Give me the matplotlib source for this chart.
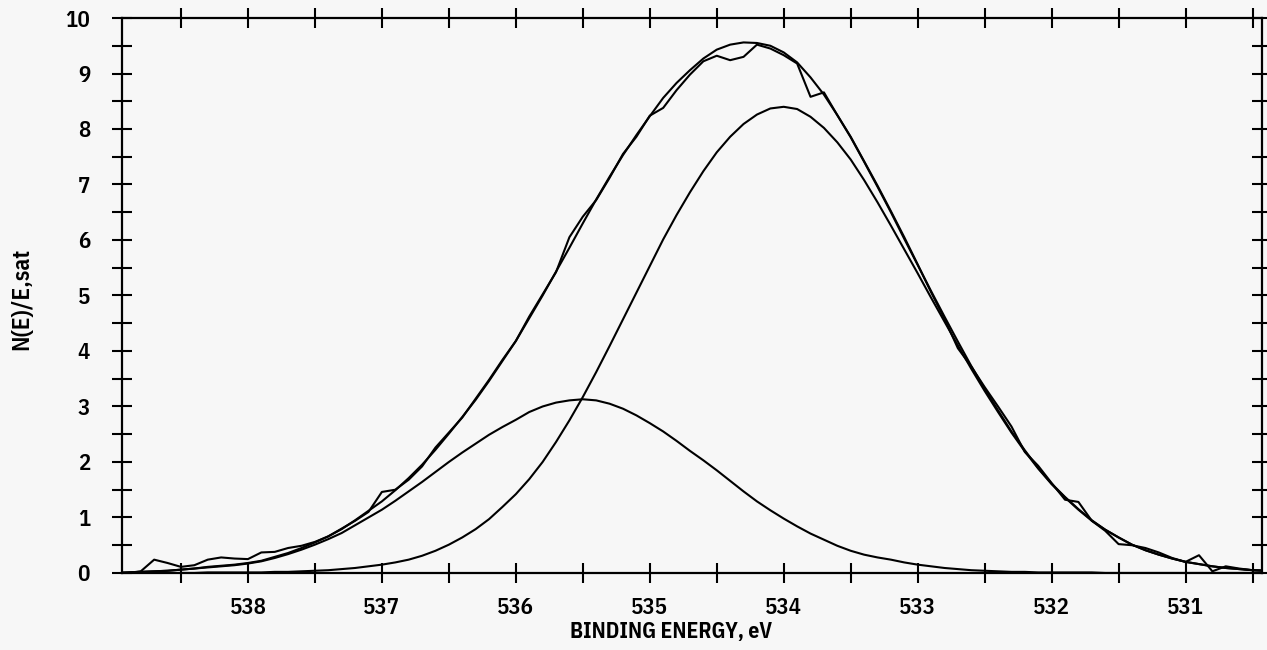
import matplotlib
matplotlib.use("Agg")
import matplotlib.pyplot as plt
from matplotlib.ticker import MultipleLocator, FuncFormatter

# Binding energy grid (eV), as sampled on the plot
energy = [539.0,
          538.9, 538.8, 538.7, 538.6, 538.5, 538.4, 538.3, 538.2, 538.1, 538.0,
          537.9, 537.8, 537.7, 537.6, 537.5, 537.4, 537.3, 537.2, 537.1, 537.0,
          536.9, 536.8, 536.7, 536.6, 536.5, 536.4, 536.3, 536.2, 536.1, 536.0,
          535.9, 535.8, 535.7, 535.6, 535.5, 535.4, 535.3, 535.2, 535.1, 535.0,
          534.9, 534.8, 534.7, 534.6, 534.5, 534.4, 534.3, 534.2, 534.1, 534.0,
          533.9, 533.8, 533.7, 533.6, 533.5, 533.4, 533.3, 533.2, 533.1, 533.0,
          532.9, 532.8, 532.7, 532.6, 532.5, 532.4, 532.3, 532.2, 532.1, 532.0,
          531.9, 531.8, 531.7, 531.6, 531.5, 531.4, 531.3, 531.2, 531.1, 531.0,
          530.9, 530.8, 530.7, 530.6, 530.5, 530.4]

# Measured spectrum N(E)/E
measured = [0.00,
            0.00, 0.03, 0.24, 0.18, 0.11, 0.14, 0.24, 0.28, 0.26, 0.25,
            0.37, 0.38, 0.45, 0.49, 0.56, 0.66, 0.80, 0.94, 1.10, 1.46,
            1.50, 1.68, 1.92, 2.26, 2.53, 2.80, 3.14, 3.48, 3.84, 4.18,
            4.62, 5.02, 5.42, 6.05, 6.42, 6.72, 7.12, 7.55, 7.86, 8.24,
            8.38, 8.70, 8.98, 9.22, 9.32, 9.24, 9.30, 9.52, 9.45, 9.33,
            9.18, 8.58, 8.66, 8.25, 7.86, 7.42, 6.98, 6.52, 6.05, 5.56,
            5.06, 4.58, 4.05, 3.72, 3.35, 3.00, 2.64, 2.18, 1.93, 1.62,
            1.32, 1.28, 0.94, 0.76, 0.52, 0.50, 0.45, 0.37, 0.27, 0.20,
            0.32, 0.03, 0.12, 0.08, 0.05, 0.04]

# Fitted component at higher binding energy (~535.5 eV)
peak_high = [0.00,
             0.01, 0.02, 0.03, 0.04, 0.06, 0.08, 0.10, 0.12, 0.14, 0.17,
             0.21, 0.27, 0.34, 0.42, 0.51, 0.61, 0.72, 0.86, 1.00, 1.14,
             1.30, 1.47, 1.64, 1.82, 2.00, 2.17, 2.33, 2.49, 2.63, 2.76,
             2.90, 3.00, 3.07, 3.11, 3.13, 3.11, 3.05, 2.96, 2.84, 2.70,
             2.55, 2.38, 2.20, 2.03, 1.85, 1.66, 1.47, 1.29, 1.13, 0.98,
             0.84, 0.71, 0.60, 0.49, 0.40, 0.33, 0.28, 0.24, 0.19, 0.15,
             0.12, 0.09, 0.07, 0.05, 0.04, 0.03, 0.02, 0.02, 0.01, 0.01,
             0.01, 0.01, 0.01, 0.00, 0.00, 0.00, 0.00, 0.00, 0.00, 0.00,
             0.00, 0.00, 0.00, 0.00, 0.00, 0.00]

# Fitted component at lower binding energy (~534.0 eV)
peak_low = [0.00,
            0.00, 0.00, 0.00, 0.00, 0.00, 0.00, 0.01, 0.01, 0.01, 0.01,
            0.01, 0.02, 0.02, 0.03, 0.04, 0.05, 0.07, 0.09, 0.12, 0.15,
            0.19, 0.24, 0.31, 0.40, 0.51, 0.64, 0.79, 0.97, 1.19, 1.42,
            1.69, 2.00, 2.36, 2.75, 3.17, 3.62, 4.09, 4.57, 5.05, 5.53,
            6.01, 6.45, 6.86, 7.24, 7.58, 7.86, 8.09, 8.26, 8.37, 8.40,
            8.36, 8.22, 8.02, 7.76, 7.45, 7.08, 6.68, 6.26, 5.83, 5.40,
            4.96, 4.53, 4.10, 3.68, 3.28, 2.90, 2.53, 2.19, 1.88, 1.60,
            1.36, 1.14, 0.94, 0.78, 0.64, 0.51, 0.41, 0.33, 0.26, 0.20,
            0.16, 0.12, 0.09, 0.07, 0.05, 0.04]

x_major = [538, 537, 536, 535, 534, 533, 532, 531]
y_major = [0, 1, 2, 3, 4, 5, 6, 7, 8, 9, 10]

envelope = [a + b for a, b in zip(peak_high, peak_low)]

BG = '#f7f7f7'
FONT = ['IBM Plex Sans Condensed', 'DejaVu Sans']
plt.rcParams['font.family'] = FONT

fig = plt.figure(figsize=(12.67, 6.5), dpi=100, facecolor=BG)
ax = fig.add_axes([0.0963, 0.1185, 0.8997, 0.8538])
ax.set_facecolor(BG)

lw = 1.5
ax.plot(energy, measured, color='black', lw=lw)
ax.plot(energy, envelope, color='black', lw=lw)
ax.plot(energy, peak_high, color='black', lw=lw)
ax.plot(energy, peak_low, color='black', lw=lw)

ax.set_xlim(538.94, 530.43)
ax.set_ylim(0, 10)

ax.set_xticks(x_major)
ax.xaxis.set_minor_locator(MultipleLocator(0.5))
ax.set_yticks(y_major)
ax.yaxis.set_minor_locator(MultipleLocator(0.5))
ax.xaxis.set_major_formatter(FuncFormatter(lambda v, p: f"{int(round(v))}"))
ax.yaxis.set_major_formatter(FuncFormatter(lambda v, p: f"{int(round(v))}"))

for s in ax.spines.values():
    s.set_linewidth(1.6)
    s.set_color('black')

ax.tick_params(axis='both', which='both', direction='inout', length=14,
               width=1.5, color='black', top=True, right=True)
ax.tick_params(axis='x', which='major', labelsize=16.5, pad=10)
ax.tick_params(axis='y', which='major', labelsize=16.5, pad=16)
for lab in ax.get_xticklabels() + ax.get_yticklabels():
    lab.set_fontweight(600)

fig.text(0.017, 0.54, 'N(E)/E,sat', rotation=90, ha='center', va='center',
         fontsize=17, fontweight=600, family=FONT)
fig.text(0.53, 0.028, 'BINDING ENERGY, eV', ha='center', va='center',
         fontsize=15.5, fontweight='bold', family=FONT)

fig.savefig('out.png', dpi=100, facecolor=BG)
